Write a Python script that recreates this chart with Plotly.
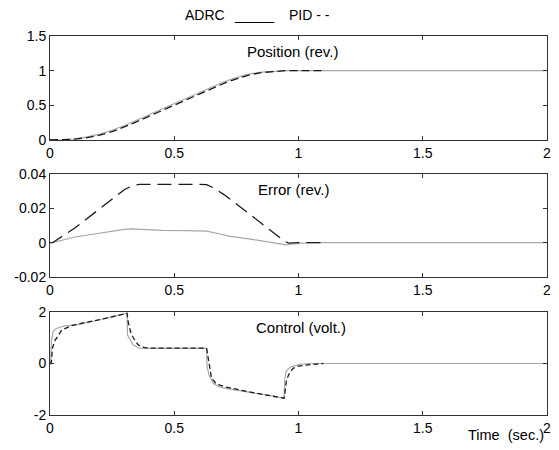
import plotly.graph_objects as go
from plotly.subplots import make_subplots

# ---------------- data ----------------
t_pos = [0, 0.05, 0.1, 0.15, 0.2, 0.25, 0.3, 0.35, 0.4, 0.45, 0.5, 0.55, 0.6,
         0.65, 0.7, 0.75, 0.8, 0.85, 0.9, 0.95, 1.0, 2.0]
pos_adrc = [0, 0.003, 0.018, 0.045, 0.085, 0.14, 0.21, 0.29, 0.37, 0.45, 0.53,
            0.61, 0.69, 0.77, 0.84, 0.9, 0.95, 0.98, 0.995, 1.0, 1.0, 1.0]
t_pos_pid = [0, 0.05, 0.1, 0.15, 0.2, 0.25, 0.3, 0.35, 0.4, 0.45, 0.5, 0.55,
             0.6, 0.65, 0.7, 0.75, 0.8, 0.85, 0.9, 0.95, 1.0, 1.1]
pos_pid = [0, 0.001, 0.012, 0.035, 0.07, 0.12, 0.188, 0.265, 0.345, 0.425, 0.505,
           0.585, 0.665, 0.745, 0.818, 0.882, 0.937, 0.972, 0.991, 1.0, 1.0, 1.0]

t_err_adrc = [0, 0.01, 0.1, 0.2, 0.3, 0.33, 0.36, 0.45, 0.55, 0.63, 0.68, 0.72,
              0.8, 0.86, 0.92, 0.95, 1.0, 1.05, 2.0]
err_adrc = [0, 0, 0.0033, 0.0056, 0.0077, 0.0080, 0.0078, 0.0072, 0.0070,
            0.0067, 0.0052, 0.0038, 0.0022, 0.0008, -0.0005, -0.0013, -0.0005,
            0, 0]
t_err_pid = [0, 0.01, 0.1, 0.2, 0.3, 0.33, 0.36, 0.6, 0.63, 0.66, 0.7, 0.8,
             0.9, 0.94, 0.96, 0.98, 1.0, 1.1]
err_pid = [0, 0, 0.0085, 0.020, 0.031, 0.033, 0.034, 0.034, 0.0338, 0.0318,
           0.028, 0.017, 0.006, 0.0012, -0.0003, 0, 0, 0]

t_u_adrc = [0, 0.003, 0.006, 0.012, 0.02, 0.035, 0.06, 0.11, 0.2, 0.25, 0.31,
            0.312, 0.32, 0.335, 0.35, 0.36, 0.4, 0.63, 0.632, 0.64, 0.657,
            0.68, 0.697, 0.8, 0.9, 0.942, 0.945, 0.95, 0.96, 0.972, 0.99,
            1.006, 1.04, 2.0]
u_adrc = [0, 0.1, 0.9, 1.23, 1.32, 1.4, 1.46, 1.5, 1.7, 1.81, 1.95, 1.1, 0.95,
          0.72, 0.64, 0.6, 0.59, 0.59, -0.1, -0.45, -0.77, -0.9, -0.95, -1.1,
          -1.27, -1.35, -0.6, -0.32, -0.2, -0.12, -0.06, -0.03, 0, 0]
t_u_pid = [0, 0.005, 0.01, 0.02, 0.027, 0.047, 0.087, 0.12, 0.2, 0.25, 0.31,
           0.315, 0.325, 0.335, 0.355, 0.38, 0.4, 0.63, 0.637, 0.65, 0.67,
           0.71, 0.8, 0.9, 0.942, 0.952, 0.966, 0.98, 1.0, 1.05, 1.1]
u_pid = [0, 0, 0.6, 0.9, 0.99, 1.3, 1.47, 1.55, 1.7, 1.81, 1.95, 1.6, 1.2,
         1.0, 0.72, 0.62, 0.6, 0.6, 0.2, -0.57, -0.8, -0.92, -1.1, -1.27,
         -1.35, -0.64, -0.32, -0.18, -0.1, -0.04, 0]

x_ticks = [0, 0.5, 1, 1.5, 2]
x_tick_text = ["0", "0.5", "1", "1.5", "2"]
pos_ticks = [0, 0.5, 1, 1.5]
pos_tick_text = ["0", "0.5", "1", "1.5"]
err_ticks = [-0.02, 0, 0.02, 0.04]
err_tick_text = ["-0.02", "0", "0.02", "0.04"]
u_ticks = [-2, 0, 2]
u_tick_text = ["-2", "0", "2"]

panel_titles = ["Position (rev.)", "Error (rev.)", "Control (volt.)"]
legend_words = ["ADRC", "_____", "PID - -"]
xlabel = "Time  (sec.)"

# ---------------- figure ----------------
FONT = "Arial, 'Liberation Sans', sans-serif"
GRAY = "#a8a8a8"
DARK = "#1a1a1a"

fig = make_subplots(rows=3, cols=1)

fig.add_trace(go.Scatter(x=t_pos, y=pos_adrc, mode="lines",
                         line=dict(color=GRAY, width=1.2)), row=1, col=1)
fig.add_trace(go.Scatter(x=t_pos_pid, y=pos_pid, mode="lines",
                         line=dict(color=DARK, width=1.3, dash="8px,4px")), row=1, col=1)
fig.add_trace(go.Scatter(x=t_err_adrc, y=err_adrc, mode="lines",
                         line=dict(color=GRAY, width=1.2)), row=2, col=1)
fig.add_trace(go.Scatter(x=t_err_pid, y=err_pid, mode="lines",
                         line=dict(color=DARK, width=1.3, dash="14px,7px")), row=2, col=1)
fig.add_trace(go.Scatter(x=t_u_adrc, y=u_adrc, mode="lines",
                         line=dict(color=GRAY, width=1.2)), row=3, col=1)
fig.add_trace(go.Scatter(x=t_u_pid, y=u_pid, mode="lines",
                         line=dict(color=DARK, width=1.3, dash="5px,3px")), row=3, col=1)

# page body has an 8px margin: plot box wanted at x 50..547, y 36..415 on the page
OFF = 8
W, HT = 559 - OFF, 450 - OFF
L, R, T, B = 50 - OFF, 12, 36 - OFF, 35
H = HT - T - B          # 379 px
PW = W - L - R          # 497 px

def frac(px_top, px_bot):
    return [(415 - px_bot) / H, (415 - px_top) / H]

domains = [frac(36, 140), frac(174, 277), frac(312, 415)]
yranges = [[0, 1.5], [-0.02, 0.04], [-2, 2]]
yticks = [(pos_ticks, pos_tick_text), (err_ticks, err_tick_text), (u_ticks, u_tick_text)]

axis_common = dict(showline=True, linecolor="#333", linewidth=1, mirror="ticks",
                   ticks="inside", ticklen=4, tickcolor="#333", showgrid=False,
                   zeroline=False, automargin=False,
                   tickfont=dict(family=FONT, size=14, color="black"))

for i in range(3):
    n = "" if i == 0 else str(i + 1)
    fig.layout["xaxis" + n].update(range=[0, 2], tickvals=x_ticks, ticktext=x_tick_text,
                                   domain=[0, 1], **axis_common)
    fig.layout["yaxis" + n].update(range=yranges[i], tickvals=yticks[i][0],
                                   ticktext=yticks[i][1], domain=domains[i], **axis_common)

title_pos = [(0.974, 1.27), (0.978, 0.0307), (1.01, 1.38)]
for i, txt in enumerate(panel_titles):
    n = "" if i == 0 else str(i + 1)
    fig.add_annotation(x=title_pos[i][0], y=title_pos[i][1], xref="x" + n, yref="y" + n,
                       text=txt, showarrow=False, xanchor="center", yanchor="middle",
                       font=dict(family=FONT, size=15, color="black"))

leg_x = [183, 232, 287]
for txt, px in zip(legend_words, leg_x):
    fig.add_annotation(x=(px - 50) / PW, y=(415 - 15) / H, xref="paper", yref="paper",
                       text=txt, showarrow=False, xanchor="left", yanchor="middle",
                       font=dict(family=FONT, size=14, color="black"))

fig.add_annotation(x=(546 - 50) / PW, y=(415 - 435) / H, xref="paper", yref="paper",
                   text=xlabel, showarrow=False, xanchor="right", yanchor="middle",
                   font=dict(family=FONT, size=14.5, color="black"))

fig.update_layout(width=W, height=HT, showlegend=False,
                  margin=dict(l=L, r=R, t=T, b=B),
                  paper_bgcolor="white", plot_bgcolor="white")

fig.write_html("out.html")
